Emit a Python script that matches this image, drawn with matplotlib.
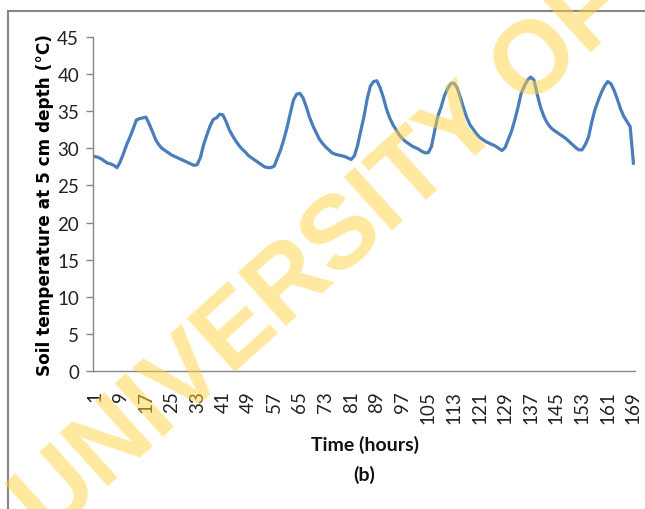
import matplotlib
matplotlib.use("Agg")
import matplotlib.pyplot as plt
from matplotlib.patches import Rectangle

# hourly soil temperature at 5 cm depth (deg C), hours 1..169
hours = list(range(1, 170))
temps = [
    28.9, 28.8, 28.6, 28.3, 28.0, 27.9, 27.7, 27.4, 28.2, 29.3,
    30.5, 31.5, 32.6, 33.8, 34.0, 34.1, 34.2, 33.3, 32.3, 31.2,
    30.5, 30.0, 29.7, 29.4, 29.1, 28.9, 28.7, 28.5, 28.3, 28.1,
    27.9, 27.7, 27.8, 28.8, 30.5, 31.8, 33.0, 33.9, 34.1, 34.6,
    34.5, 33.6, 32.5, 31.7, 31.0, 30.4, 29.9, 29.5, 29.0, 28.7,
    28.4, 28.1, 27.8, 27.5, 27.4, 27.4, 27.6, 28.7, 29.8, 31.2,
    32.8, 34.7, 36.5, 37.3, 37.4, 36.8, 35.6, 34.2, 33.1, 32.2,
    31.3, 30.7, 30.2, 29.8, 29.4, 29.2, 29.1, 29.0, 28.9, 28.7,
    28.5, 29.0, 30.4, 32.4, 34.3, 36.7, 38.4, 39.0, 39.1, 38.2,
    36.9, 35.3, 34.1, 33.2, 32.5, 31.8, 31.3, 30.9, 30.6, 30.3,
    30.1, 29.9, 29.6, 29.4, 29.4, 30.2, 32.3, 34.3, 35.5, 37.0,
    38.0, 38.7, 38.8, 38.2, 36.9, 35.5, 34.2, 33.2, 32.6, 32.0,
    31.5, 31.2, 30.9, 30.7, 30.5, 30.3, 30.0, 29.7, 30.1, 31.2,
    32.3, 33.8, 35.5, 37.4, 38.4, 39.2, 39.6, 39.2, 37.3, 35.6,
    34.4, 33.5, 32.9, 32.5, 32.2, 31.9, 31.6, 31.3, 30.9, 30.5,
    30.1, 29.8, 29.8, 30.5, 31.5, 33.5, 35.2, 36.4, 37.5, 38.4,
    39.0, 38.7, 37.8, 36.6, 35.3, 34.3, 33.6, 32.9, 28.0,
]
x_ticks = hours[::8]
y_ticks = [0, 5, 10, 15, 20, 25, 30, 35, 40, 45]

plt.rcParams["font.family"] = ["Lato", "DejaVu Sans"]

fig = plt.figure(figsize=(6.45, 5.1), dpi=100)
ax = fig.add_axes([0.1442, 0.2706, 0.8403, 0.6549])

# gray outer frame of the chart area (cropped on right and bottom)
fig.patches.append(Rectangle((8 / 645, -0.1), 1.2, 1 - 12 / 510 + 0.1,
                             transform=fig.transFigure, fill=False,
                             edgecolor="#868686", linewidth=1.5))

ax.plot(hours, temps, color="#4A7EBB", linewidth=2.3, solid_joinstyle="round")

ax.set_xlim(0.5, 169.5)
ax.set_ylim(0, 45)
ax.set_xticks(x_ticks)
ax.set_xticklabels([str(h) for h in x_ticks], rotation=90, fontsize=13.5,
                   color="#222222")
ax.set_yticks(y_ticks)
ax.set_yticklabels([str(v) for v in y_ticks], fontsize=13.5, color="#222222")
ax.tick_params(axis="x", length=0, pad=14)
ax.tick_params(axis="y", length=5, width=1, color="#868686", pad=5)

for side in ["top", "right"]:
    ax.spines[side].set_visible(False)
for side in ["left", "bottom"]:
    ax.spines[side].set_color("#868686")
    ax.spines[side].set_linewidth(1)

ax.set_ylabel("Soil temperature at 5 cm depth (\u00b0C)", fontsize=12.2,
              fontweight="bold", family="DejaVu Sans", labelpad=2)
fig.text(365 / 645, 1 - 445 / 510, "Time (hours)", ha="center", va="center",
         fontsize=14, fontweight="bold", color="#111111")
fig.text(364 / 645, 1 - 475 / 510, "(b)", ha="center", va="center",
         fontsize=14, fontweight="bold", color="#111111")

# diagonal watermark
fig.text(0.075, -0.06, "UNIVERSITY OF", ha="left", va="baseline",
         rotation=42, rotation_mode="anchor", fontsize=74, fontweight="bold",
         color="#FFD23F", alpha=0.5, family=["Liberation Sans", "DejaVu Sans"],
         zorder=10)

fig.savefig("out.png", dpi=100)
